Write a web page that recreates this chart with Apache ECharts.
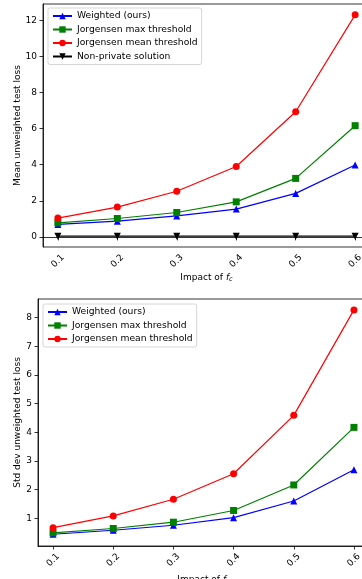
<!DOCTYPE html>
<html>
<head>
<meta charset="utf-8">
<script src="https://cdn.jsdelivr.net/npm/echarts@6/dist/echarts.min.js"></script>
<style>
html,body{margin:0;padding:0;background:#fff;}
#c{width:362px;height:579px;}
</style>
</head>
<body>
<div id="c"></div>
<script>
// ---- data ----
const xValues = [0.1, 0.2, 0.3, 0.4, 0.5, 0.6];
const xTicks = [0.1, 0.2, 0.3, 0.4, 0.5, 0.6];
const yTicksTop = [0, 2, 4, 6, 8, 10, 12];
const yTicksBottom = [1, 2, 3, 4, 5, 6, 7, 8];

const meanWeighted = [0.69, 0.87, 1.16, 1.54, 2.41, 3.98];
const meanMaxThr = [0.78, 1.02, 1.35, 1.94, 3.24, 6.16];
const meanMeanThr = [1.04, 1.65, 2.53, 3.90, 6.93, 12.30];
const meanNonPrivate = [0.04, 0.04, 0.04, 0.04, 0.04, 0.04];

const stdWeighted = [0.44, 0.58, 0.755, 1.02, 1.60, 2.69];
const stdMaxThr = [0.49, 0.64, 0.86, 1.27, 2.16, 4.17];
const stdMeanThr = [0.67, 1.08, 1.66, 2.55, 4.59, 8.27];

const names = ['Weighted (ours)', 'Jorgensen max threshold', 'Jorgensen mean threshold', 'Non-private solution'];

// ---- chart ----
const FONT = 'DejaVu Sans';
const FS = 9;
const LFS = 9.2;
const downTri = 'path://M0,0L10,0L5,9Z';
const pairs = (ys) => xValues.map((x, i) => [x, ys[i]]);

const chart = echarts.init(document.getElementById('c'), null, {renderer: 'canvas'});

function xAxis(gridIndex, gap) {
  return {
    type: 'value', gridIndex, min: 0.075, max: 0.625,
    name: 'Impact of {i|f}{s|c}', nameLocation: 'middle', nameGap: gap, nameMoveOverlap: false,
    nameTextStyle: {fontFamily: FONT, fontSize: FS, color: '#000',
      rich: {i: {fontFamily: FONT, fontSize: FS, fontStyle: 'italic', color: '#000'},
             s: {fontFamily: FONT, fontSize: 6.5, fontStyle: 'italic', color: '#000', padding: [4, 0, 0, 0]}}},
    axisLine: {show: true, lineStyle: {color: '#000', width: 0.8}},
    axisTick: {show: true, length: 3.5, lineStyle: {color: '#000', width: 0.8}, customValues: xTicks},
    axisLabel: {customValues: xTicks, rotate: 45, align: 'center', verticalAlign: 'middle', margin: 14,
      fontFamily: FONT, fontSize: FS, color: '#000', formatter: v => v.toFixed(1)},
    splitLine: {show: false}
  };
}
function yAxis(gridIndex, min, max, ticks, name, gap) {
  return {
    type: 'value', gridIndex, min, max,
    name, nameLocation: 'middle', nameGap: gap, nameMoveOverlap: false,
    nameTextStyle: {fontFamily: FONT, fontSize: FS, color: '#000'},
    axisLine: {show: true, lineStyle: {color: '#000', width: 0.8}},
    axisTick: {show: true, length: 3.5, lineStyle: {color: '#000', width: 0.8}, customValues: ticks},
    axisLabel: {customValues: ticks, margin: 6, fontFamily: FONT, fontSize: FS, color: '#000'},
    splitLine: {show: false}
  };
}
function series(name, data, color, symbol, idx) {
  return {
    type: 'line', name, data, xAxisIndex: idx, yAxisIndex: idx,
    symbol, symbolSize: 7, showAllSymbol: true,
    lineStyle: {color, width: 1.2}, itemStyle: {color},
    emphasis: {disabled: true}, animation: false
  };
}
function legend(left, top, data) {
  return {
    left, top, orient: 'vertical', data,
    itemWidth: 19, itemHeight: 8, itemGap: 3.5,
    padding: [3, 4, 3, 4],
    backgroundColor: 'rgba(255,255,255,0.8)', borderColor: '#cccccc', borderWidth: 0.8, borderRadius: 2,
    textStyle: {fontFamily: FONT, fontSize: LFS, color: '#000', lineHeight: 10},
    selectedMode: false
  };
}

chart.setOption({
  animation: false,
  textStyle: {fontFamily: FONT},
  grid: [
    {left: 43, top: 4, width: 327, height: 243, show: true, borderColor: '#000', borderWidth: 0.8, outerBoundsMode: 'none', containLabel: false},
    {left: 38, top: 299, width: 331, height: 247, show: true, borderColor: '#000', borderWidth: 0.8, outerBoundsMode: 'none', containLabel: false}
  ],
  xAxis: [xAxis(0, 25), xAxis(1, 28)],
  yAxis: [
    yAxis(0, -0.56, 12.9, yTicksTop, 'Mean unweighted test loss', 21),
    yAxis(1, 0.03, 8.65, yTicksBottom, 'Std dev unweighted test loss', 16)
  ],
  legend: [
    legend(48, 8, names.map(n => ({name: n}))),
    legend(43, 304, names.slice(0, 3).map(n => ({name: n})))
  ],
  series: [
    series(names[0], pairs(meanWeighted), '#0000ff', 'triangle', 0),
    series(names[1], pairs(meanMaxThr), '#008000', 'rect', 0),
    series(names[2], pairs(meanMeanThr), '#ff0000', 'circle', 0),
    series(names[3], pairs(meanNonPrivate), '#000000', downTri, 0),
    series(names[0], pairs(stdWeighted), '#0000ff', 'triangle', 1),
    series(names[1], pairs(stdMaxThr), '#008000', 'rect', 1),
    series(names[2], pairs(stdMeanThr), '#ff0000', 'circle', 1)
  ]
});
</script>
</body>
</html>
